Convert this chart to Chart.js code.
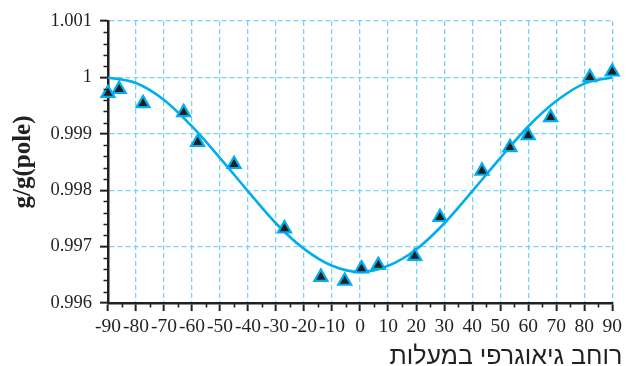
<!DOCTYPE html>
<html>
<head>
<meta charset="utf-8">
<script src="https://cdn.jsdelivr.net/npm/chart.js@4/dist/chart.umd.min.js"></script>
<style>
  html, body { margin: 0; padding: 0; background: #ffffff; }
  #wrap { width: 626px; height: 366px; position: relative; }
</style>
</head>
<body>
<div id="wrap"><canvas id="chart"></canvas></div>
<script>
// Measured relative gravity g/g(pole) against latitude
const latitudes = [-90, -86, -77.5, -63, -58, -45, -27, -14, -5.5, 0.5, 6.5, 19.5, 28.5, 43.5, 53.5, 60, 68, 82, 90];
const measured = [0.99972, 0.99979, 0.99954, 0.99938, 0.99885, 0.99846, 0.99732, 0.99646, 0.99639, 0.99661,
                  0.99667, 0.99683, 0.99752, 0.99834, 0.99876, 0.99897, 0.99929, 1.00000, 1.00010];

// Fitted curve, sampled every 10 degrees
const fitLatitudes = [-90, -80, -70, -60, -50, -40, -30, -20, -10, 0, 10, 20, 30, 40, 50, 60, 70, 80, 90];
const fitValues = [1.00000, 0.99990, 0.99960, 0.99913, 0.99857, 0.99798, 0.99741, 0.99696, 0.99666, 0.99655,
                   0.99666, 0.99695, 0.99741, 0.99798, 0.99857, 0.99913, 0.99958, 0.99989, 1.00000];

// Axis ticks
const xTickValues = [-90, -80, -70, -60, -50, -40, -30, -20, -10, 0, 10, 20, 30, 40, 50, 60, 70, 80, 90];
const xTickLabels = ['-90', '-80', '-70', '-60', '-50', '-40', '-30', '-20', '-10', '0', '10', '20', '30', '40', '50', '60', '70', '80', '90'];
const xMinorTicks = [-85, -75, -65, -55, -45, -35, -25, -15, -5, 5, 15, 25, 35, 45, 55, 65, 75, 85];
const yTickValues = [0.996, 0.997, 0.998, 0.999, 1, 1.001];
const yTickLabels = ['0.996', '0.997', '0.998', '0.999', '1', '1.001'];
const yMinorTicks = [0.9962, 0.9964, 0.9966, 0.9968, 0.9972, 0.9974, 0.9976, 0.9978, 0.9982, 0.9984, 0.9986, 0.9988,
                     0.9992, 0.9994, 0.9996, 0.9998, 1.0002, 1.0004, 1.0006, 1.0008];

const xTitle = 'רוחב גיאוגרפי במעלות';
const yTitle = 'g/g(pole)';

const INK = '#231f20';
const CYAN = '#00aeef';
const GRID = '#7ad3f6';
const SERIF = '"Liberation Serif", "DejaVu Serif", serif';

// Short minor tick marks and the Hebrew axis caption
const extras = {
  id: 'extras',
  afterDraw(chart) {
    const ctx = chart.ctx;
    const x = chart.scales.x, y = chart.scales.y;
    const area = chart.chartArea;
    ctx.save();
    ctx.strokeStyle = INK;
    ctx.lineWidth = 1.6;
    ctx.beginPath();
    xMinorTicks.forEach(v => {
      const px = Math.round(x.getPixelForValue(v)) + 0.5;
      ctx.moveTo(px, area.bottom);
      ctx.lineTo(px, area.bottom + 4.5);
    });
    yMinorTicks.forEach(v => {
      const py = Math.round(y.getPixelForValue(v)) + 0.5;
      ctx.moveTo(area.left - 4.5, py);
      ctx.lineTo(area.left, py);
    });
    ctx.stroke();

    ctx.fillStyle = INK;
    ctx.font = '25px "Liberation Sans", "DejaVu Sans", sans-serif';
    ctx.textAlign = 'right';
    ctx.textBaseline = 'alphabetic';
    ctx.fillText(xTitle, area.right + 10, 364);
    ctx.restore();
  }
};

const gridStyle = {
  color: GRID,
  lineWidth: 1.3,
  drawTicks: true,
  tickLength: 8,
  tickColor: INK,
  tickWidth: 2,
  tickBorderDash: []
};
const borderStyle = { display: true, color: INK, width: 2.5, dash: [5, 3] };

new Chart(document.getElementById('chart'), {
  type: 'scatter',
  data: {
    datasets: [
      {
        label: 'measured',
        data: latitudes.map((lat, i) => ({ x: lat, y: measured[i] })),
        pointStyle: 'triangle',
        pointRadius: 7.5,
        pointHoverRadius: 7.5,
        pointBackgroundColor: INK,
        pointBorderColor: CYAN,
        pointBorderWidth: 2.2,
        showLine: false,
        clip: false
      },
      {
        label: 'fit',
        data: fitLatitudes.map((lat, i) => ({ x: lat, y: fitValues[i] })),
        showLine: true,
        borderColor: CYAN,
        borderWidth: 2.6,
        pointRadius: 0,
        cubicInterpolationMode: 'monotone',
        fill: false,
        clip: false
      }
    ]
  },
  options: {
    responsive: true,
    maintainAspectRatio: false,
    animation: false,
    devicePixelRatio: 1,
    layout: { padding: { top: 21, right: 13, bottom: 33, left: 0 } },
    plugins: {
      legend: { display: false },
      tooltip: { enabled: false },
      title: { display: false }
    },
    scales: {
      x: {
        type: 'linear',
        min: -90,
        max: 90,
        afterBuildTicks: s => { s.ticks = xTickValues.map(v => ({ value: v })); },
        afterFit: s => { s.height = 30; },
        ticks: {
          autoSkip: false,
          maxRotation: 0,
          padding: 4,
          color: INK,
          font: { family: SERIF, size: 19.5 },
          callback: (v, i) => xTickLabels[i]
        },
        grid: gridStyle,
        border: borderStyle
      },
      y: {
        type: 'linear',
        min: 0.996,
        max: 1.001,
        afterBuildTicks: s => { s.ticks = yTickValues.map(v => ({ value: v })); },
        afterFit: s => { s.width = 108; },
        ticks: {
          padding: 8,
          color: INK,
          font: { family: SERIF, size: 18.5 },
          callback: (v, i) => yTickLabels[i]
        },
        grid: gridStyle,
        border: borderStyle,
        title: {
          display: true,
          text: yTitle,
          color: INK,
          font: { family: SERIF, size: 25, weight: 'bold' },
          padding: { top: 9, bottom: 0 }
        }
      }
    }
  },
  plugins: [extras]
});
</script>
</body>
</html>
